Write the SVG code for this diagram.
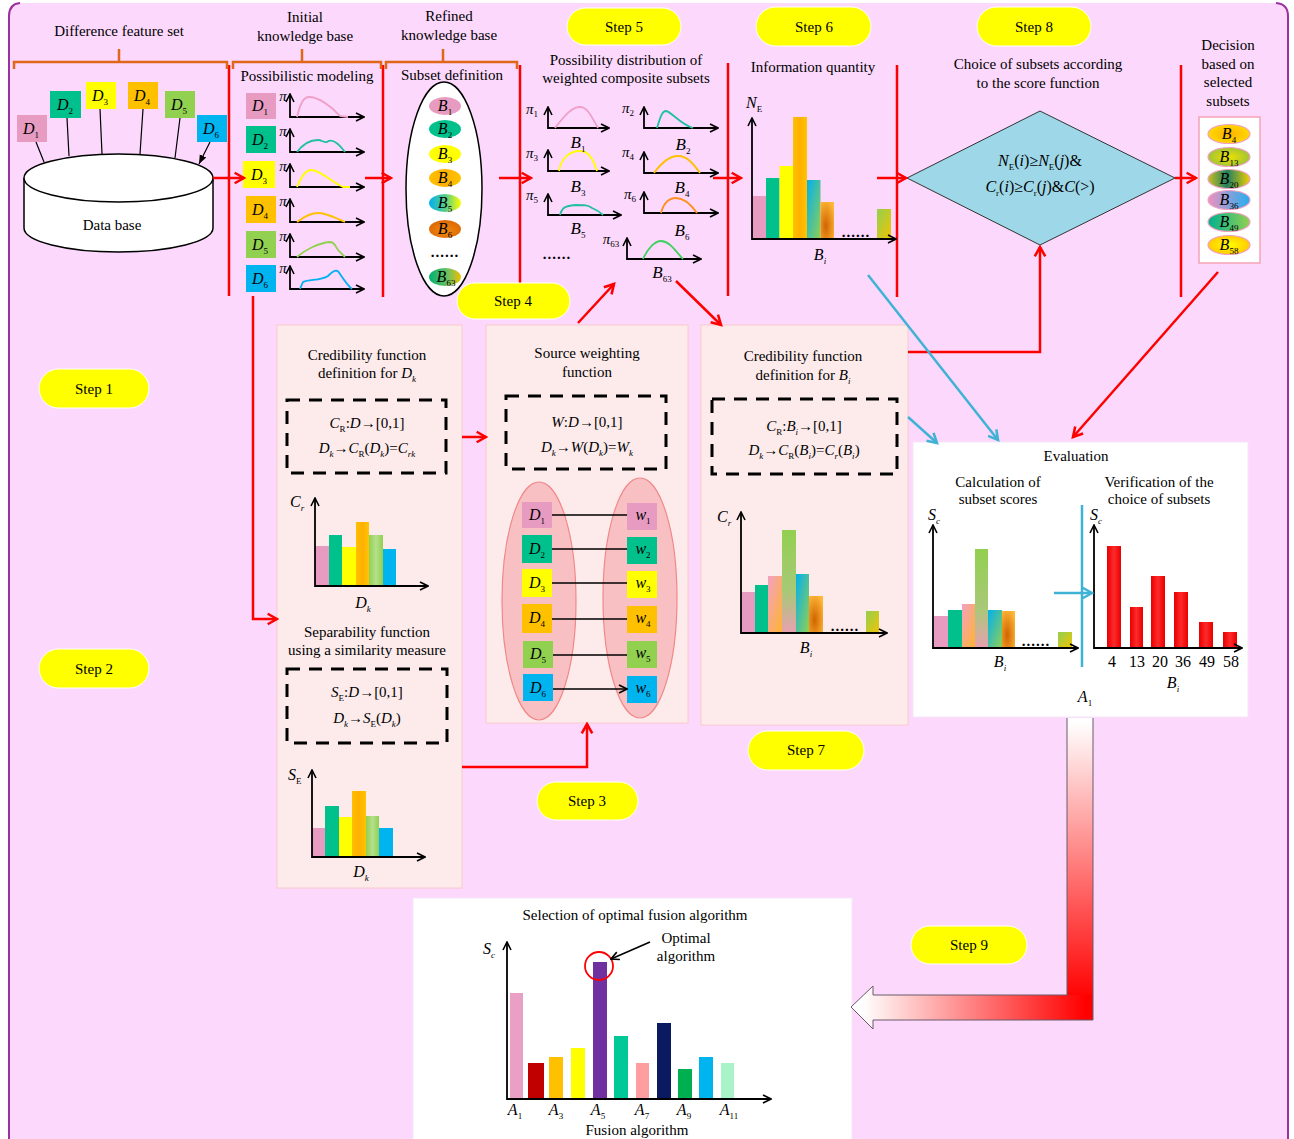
<svg xmlns="http://www.w3.org/2000/svg" width="1294" height="1139" viewBox="0 0 1294 1139">
<defs>
<style>
.t{font-family:"Liberation Serif","Times New Roman",serif;font-size:15px;fill:#000;text-anchor:middle}
.l{text-anchor:start}
.i{font-style:italic}
.s{font-size:9px}
.m{font-size:16px}
.b{font-size:17px}
.ax{stroke:#000;stroke-width:1.8;fill:none;marker-start:url(#aa);marker-end:url(#aa)}
.lane{stroke:#FF0000;stroke-width:2.5;fill:none}
.rc{stroke:#FF0000;stroke-width:2.5;fill:none;marker-end:url(#ra)}
.bc{stroke:#3FB2D6;stroke-width:2.5;fill:none;marker-end:url(#ba)}
.pill{fill:#FFFF00;stroke:#fff;stroke-width:1}
.panel{fill:#FDEBEB;stroke:#F8CACA;stroke-width:1}
.white{fill:#fff;stroke:#F6E6F6;stroke-width:1}
.dash{fill:none;stroke:#000;stroke-width:3;stroke-dasharray:13 9}
.bk{stroke:#000;stroke-width:1.2;fill:none;marker-end:url(#ka)}
.bw{stroke:#000;stroke-width:1.6;fill:none;marker-end:url(#aa)}
.cv{fill:none;stroke-width:1.8}
.brk{stroke:#E0661A;stroke-width:2.5;fill:none}
.pk{fill:#E89BC0}.tl{fill:#00C08C}.ye{fill:#FFFF00}.or{fill:#FFC000}.gr{fill:#92D050}.bl{fill:#00B4F0}
</style>
<marker id="aa" viewBox="0 0 10 10" refX="9" refY="5" markerWidth="10" markerHeight="10" markerUnits="userSpaceOnUse" orient="auto-start-reverse"><path d="M1,1 L9,5 L1,9" fill="none" stroke="#000" stroke-width="1.6"/></marker>
<marker id="ka" viewBox="0 0 10 10" refX="10" refY="5" markerWidth="9" markerHeight="9" markerUnits="userSpaceOnUse" orient="auto"><path d="M0,1 L10,5 L0,9 z" fill="#000"/></marker>
<marker id="ra" viewBox="0 0 12 12" refX="10" refY="6" markerWidth="14" markerHeight="14" markerUnits="userSpaceOnUse" orient="auto"><path d="M2,1.5 L10,6 L2,10.5" fill="none" stroke="#FF0000" stroke-width="2.2"/></marker>
<marker id="ba" viewBox="0 0 12 12" refX="10" refY="6" markerWidth="14" markerHeight="14" markerUnits="userSpaceOnUse" orient="auto"><path d="M2,1.5 L10,6 L2,10.5" fill="none" stroke="#3FB2D6" stroke-width="2.2"/></marker>
<linearGradient id="gPeach" x1="0" y1="0" x2="1" y2="1"><stop offset="0" stop-color="#F3A0C4"/><stop offset="1" stop-color="#FFB52E"/></linearGradient>
<linearGradient id="gBG" x1="0" y1="0" x2="1" y2="1"><stop offset="0" stop-color="#00B0F0"/><stop offset="1" stop-color="#92D050"/></linearGradient>
<radialGradient id="gDO" cx="0.4" cy="0.65" r="0.75"><stop offset="0" stop-color="#D06400"/><stop offset="1" stop-color="#FFB838"/></radialGradient>
<linearGradient id="gGY" x1="0" y1="0" x2="1" y2="1"><stop offset="0" stop-color="#92D050"/><stop offset="1" stop-color="#F2C400"/></linearGradient>
<linearGradient id="gGr" x1="0" y1="0" x2="1" y2="0"><stop offset="0" stop-color="#92D050"/><stop offset="0.5" stop-color="#B5E08C"/><stop offset="1" stop-color="#92D050"/></linearGradient>
<linearGradient id="gOr" x1="0" y1="0" x2="1" y2="0"><stop offset="0" stop-color="#FFC000"/><stop offset="0.5" stop-color="#FFB000"/><stop offset="1" stop-color="#FFC400"/></linearGradient>
<linearGradient id="gGP" x1="0" y1="0" x2="0" y2="1"><stop offset="0" stop-color="#92D050"/><stop offset="0.6" stop-color="#A8C878"/><stop offset="1" stop-color="#E8A0B0"/></linearGradient>
<linearGradient id="gRed" x1="0" y1="0" x2="1" y2="0"><stop offset="0" stop-color="#E80000"/><stop offset="0.5" stop-color="#FF2A2A"/><stop offset="1" stop-color="#E80000"/></linearGradient>
<linearGradient id="gV" gradientUnits="userSpaceOnUse" x1="0" y1="722" x2="0" y2="1000"><stop offset="0" stop-color="#fff"/><stop offset="1" stop-color="#FF0000"/></linearGradient>
<linearGradient id="gH" gradientUnits="userSpaceOnUse" x1="862" y1="0" x2="1085" y2="0"><stop offset="0" stop-color="#fff"/><stop offset="1" stop-color="#FF0000"/></linearGradient>
<linearGradient id="gB5" x1="0" y1="0" x2="1" y2="0"><stop offset="0" stop-color="#00B0F0"/><stop offset="0.55" stop-color="#60D080"/><stop offset="1" stop-color="#FFFF00"/></linearGradient>
<radialGradient id="gB6" cx="0.5" cy="0.6" r="0.7"><stop offset="0" stop-color="#F08A10"/><stop offset="1" stop-color="#D86000"/></radialGradient>
<linearGradient id="gB63" x1="0" y1="0" x2="1" y2="0"><stop offset="0" stop-color="#00B070"/><stop offset="0.6" stop-color="#70C060"/><stop offset="1" stop-color="#F0C000"/></linearGradient>
<radialGradient id="gD4" cx="0.5" cy="0.5" r="0.6"><stop offset="0" stop-color="#FFB000"/><stop offset="1" stop-color="#FFE000"/></radialGradient>
<radialGradient id="gD13" cx="0.5" cy="0.5" r="0.6"><stop offset="0" stop-color="#F0E000"/><stop offset="1" stop-color="#92C040"/></radialGradient>
<linearGradient id="gD20" x1="0" y1="0" x2="1" y2="0"><stop offset="0" stop-color="#C8C020"/><stop offset="0.45" stop-color="#208060"/><stop offset="1" stop-color="#F0D000"/></linearGradient>
<linearGradient id="gD36" x1="0" y1="0" x2="1" y2="0"><stop offset="0" stop-color="#F090C0"/><stop offset="1" stop-color="#20B0F0"/></linearGradient>
<linearGradient id="gD49" x1="0" y1="0" x2="1" y2="0"><stop offset="0" stop-color="#00B090"/><stop offset="1" stop-color="#92D050"/></linearGradient>
<radialGradient id="gD58" cx="0.5" cy="0.5" r="0.6"><stop offset="0" stop-color="#FFFF00"/><stop offset="1" stop-color="#FFC000"/></radialGradient>
</defs>

<rect x="0" y="0" width="1294" height="1139" fill="#fff"/>
<rect x="9" y="3" width="1279" height="1150" rx="12" fill="#FCD9FC"/>
<path d="M9,1139 V16 Q9,4 20,3 M1276,3 Q1288,4 1288,16 V1139" fill="none" stroke="#9932A0" stroke-width="2"/>

<!-- lane separators -->
<g id="lanes">
<path class="lane" d="M229,65 V296 M383,65 V297 M520,65 V296 M728,63 V296 M897,65 V297 M1181,65 V297"/>
</g>

<!-- brackets and headers -->
<g id="feature-set">
<text class="t" x="119" y="36">Difference feature set</text>
<path class="brk" d="M14,69 V62 H227 V69 M119,62 V49"/>
</g>
<g id="initial-kb">
<text class="t" x="305" y="22">Initial</text>
<text class="t" x="305" y="41">knowledge base</text>
<path class="brk" d="M233,69 V62 H381 V69 M302,62 V49"/>
<text class="t" x="307" y="81">Possibilistic modeling</text>
</g>
<g id="refined-kb">
<text class="t" x="449" y="21">Refined</text>
<text class="t" x="449" y="40">knowledge base</text>
<path class="brk" d="M386,69 V62 H517 V69 M443,62 V49"/>
<text class="t" x="452" y="80">Subset definition</text>
</g>

<g id="database">
<path d="M24,178 V228 A94.5,24 0 0,0 213,228 V178" fill="#fff" stroke="#000" stroke-width="1.5"/>
<ellipse cx="118.5" cy="178" rx="94.5" ry="24" fill="#fff" stroke="#000" stroke-width="1.5"/>
<text class="t" x="112" y="230">Data base</text>
</g>

<!-- D sources -->
<g id="sources">
<rect class="pk" x="17" y="115" width="30" height="27"/><text class="t m i" x="31" y="134">D<tspan class="s" font-style="normal" dy="4">1</tspan></text>
<rect class="tl" x="50" y="91" width="31" height="27"/><text class="t m i" x="65" y="110">D<tspan class="s" font-style="normal" dy="4">2</tspan></text>
<rect class="ye" x="86" y="82" width="30" height="27"/><text class="t m i" x="100" y="101">D<tspan class="s" font-style="normal" dy="4">3</tspan></text>
<rect class="or" x="128" y="82" width="30" height="27"/><text class="t m i" x="142" y="101">D<tspan class="s" font-style="normal" dy="4">4</tspan></text>
<rect class="gr" x="165" y="91" width="30" height="27"/><text class="t m i" x="179" y="110">D<tspan class="s" font-style="normal" dy="4">5</tspan></text>
<rect class="bl" x="197" y="115" width="30" height="27"/><text class="t m i" x="211" y="134">D<tspan class="s" font-style="normal" dy="4">6</tspan></text>
<path class="bk" d="M36,142 L44,162 M67,118 L69,156 M100,109 L102,154 M143,109 L140,154 M180,118 L175,158 M210,142 L199,164"/>
</g>

<!-- Possibilistic modeling -->
<g id="possibilistic-modeling">
<rect class="pk" x="246" y="93" width="30" height="26"/><text class="t m i" x="260" y="111">D<tspan class="s" font-style="normal" dy="4">1</tspan></text>
<rect class="tl" x="246" y="126" width="30" height="27"/><text class="t m i" x="260" y="145">D<tspan class="s" font-style="normal" dy="4">2</tspan></text>
<rect class="ye" x="243" y="161" width="32" height="27"/><text class="t m i" x="259" y="180">D<tspan class="s" font-style="normal" dy="4">3</tspan></text>
<rect class="or" x="246" y="196" width="30" height="27"/><text class="t m i" x="260" y="215">D<tspan class="s" font-style="normal" dy="4">4</tspan></text>
<rect class="gr" x="246" y="231" width="30" height="27"/><text class="t m i" x="260" y="250">D<tspan class="s" font-style="normal" dy="4">5</tspan></text>
<rect class="bl" x="246" y="265" width="30" height="27"/><text class="t m i" x="260" y="284">D<tspan class="s" font-style="normal" dy="4">6</tspan></text>
<g class="t i" font-size="13">
<text x="283" y="101">π</text><text x="283" y="136">π</text><text x="283" y="171">π</text><text x="283" y="206">π</text><text x="283" y="241">π</text><text x="283" y="273">π</text>
</g>
<path class="ax" d="M290,94 V117 H364"/>
<path class="ax" d="M290,129 V152 H364"/>
<path class="ax" d="M290,164 V187 H364"/>
<path class="ax" d="M290,199 V222 H364"/>
<path class="ax" d="M290,234 V257 H364"/>
<path class="ax" d="M290,266 V289 H364"/>
<path class="cv" stroke="#F0A0C8" d="M297,117 C300,105 303,97 309,97 C318,97 330,105 340,116 L348,117"/>
<path class="cv" stroke="#20C0A0" d="M297,152 C303,144 310,140 318,140 C322,140 324,143 327,142 C331,139 336,140 345,152"/>
<path class="cv" stroke="#FFFF00" d="M297,187 C301,178 305,170 311,170 C320,170 330,181 343,187 L350,187"/>
<path class="cv" stroke="#FFC000" d="M297,222 C305,216 311,213 318,213 C327,213 335,218 345,222"/>
<path class="cv" stroke="#92D050" d="M297,257 C305,250 318,243 330,242 C336,242 336,250 340,252 L345,257"/>
<path class="cv" stroke="#00B0F0" d="M300,289 L303,282 C310,279 320,281 328,276 C333,271 337,268 340,274 C344,280 348,286 352,289"/>
</g>

<!-- Subset definition -->
<g id="subset-definition">
<ellipse cx="444" cy="189" rx="38" ry="107" fill="#fff" stroke="#000" stroke-width="1.5"/>
<ellipse cx="445" cy="106" rx="16" ry="9" fill="#E89BC0"/>
<ellipse cx="445" cy="129" rx="16" ry="9" fill="#00C08C"/>
<ellipse cx="445" cy="154" rx="16" ry="9" fill="#FFFF00"/>
<ellipse cx="445" cy="178" rx="16" ry="9" fill="url(#gOr)"/>
<ellipse cx="445" cy="203" rx="16" ry="9" fill="url(#gB5)"/>
<ellipse cx="445" cy="229" rx="16" ry="9" fill="url(#gB6)"/>
<ellipse cx="445" cy="277" rx="16" ry="9" fill="url(#gB63)"/>
<g class="t m i">
<text x="445" y="111">B<tspan class="s" font-style="normal" dy="4">1</tspan></text>
<text x="445" y="134">B<tspan class="s" font-style="normal" dy="4">2</tspan></text>
<text x="445" y="159">B<tspan class="s" font-style="normal" dy="4">3</tspan></text>
<text x="445" y="183">B<tspan class="s" font-style="normal" dy="4">4</tspan></text>
<text x="445" y="208">B<tspan class="s" font-style="normal" dy="4">5</tspan></text>
<text x="445" y="234">B<tspan class="s" font-style="normal" dy="4">6</tspan></text>
<text x="446" y="282">B<tspan class="s" font-style="normal" dy="4">63</tspan></text>
</g>
<text class="t" x="445" y="257" font-weight="bold" letter-spacing="1">......</text>
</g>

<!-- Step 5 possibility distributions -->
<g id="weighted-subsets">
<text class="t" x="626" y="65">Possibility distribution of</text>
<text class="t" x="626" y="83">weighted composite subsets</text>
<g class="t i" font-size="14">
<text x="532" y="114">π<tspan class="s" font-style="normal" dy="3">1</tspan></text>
<text x="628" y="113">π<tspan class="s" font-style="normal" dy="3">2</tspan></text>
<text x="532" y="158">π<tspan class="s" font-style="normal" dy="3">3</tspan></text>
<text x="628" y="157">π<tspan class="s" font-style="normal" dy="3">4</tspan></text>
<text x="532" y="200">π<tspan class="s" font-style="normal" dy="3">5</tspan></text>
<text x="630" y="199">π<tspan class="s" font-style="normal" dy="3">6</tspan></text>
<text x="611" y="244">π<tspan class="s" font-style="normal" dy="3">63</tspan></text>
</g>
<path class="ax" d="M548,107 V128 H609"/>
<path class="ax" d="M644,107 V128 H718"/>
<path class="ax" d="M548,150 V171 H609"/>
<path class="ax" d="M644,152 V173 H718"/>
<path class="ax" d="M548,194 V215 H621"/>
<path class="ax" d="M644,192 V213 H718"/>
<path class="ax" d="M627,238 V259 H701"/>
<path class="cv" stroke="#F0A0C8" d="M555,128 C565,115 572,107 580,107 C588,107 592,118 598,128"/>
<path class="cv" stroke="#20C0A0" d="M657,128 C660,118 662,111 666,111 C672,112 680,124 693,128"/>
<path class="cv" stroke="#FFFF00" d="M559,171 C561,158 570,151 580,151 C590,151 594,162 597,171"/>
<path class="cv" stroke="#FFC000" d="M654,173 C662,162 670,156 678,156 C688,156 695,166 700,173"/>
<path class="cv" stroke="#20C0A0" d="M560,215 C562,207 566,206 575,205 C585,205 588,205 592,208 C597,210 600,212 603,215"/>
<path class="cv" stroke="#FF9020" d="M661,213 C664,202 670,198 676,198 C685,198 692,206 697,213"/>
<path class="cv" stroke="#40D060" d="M643,259 C648,248 655,241 661,241 C670,241 676,252 683,259"/>
<g class="t b i">
<text x="578" y="148">B<tspan class="s" font-style="normal" dy="4">1</tspan></text>
<text x="683" y="150">B<tspan class="s" font-style="normal" dy="4">2</tspan></text>
<text x="578" y="192">B<tspan class="s" font-style="normal" dy="4">3</tspan></text>
<text x="682" y="193">B<tspan class="s" font-style="normal" dy="4">4</tspan></text>
<text x="578" y="234">B<tspan class="s" font-style="normal" dy="4">5</tspan></text>
<text x="682" y="236">B<tspan class="s" font-style="normal" dy="4">6</tspan></text>
<text x="662" y="278">B<tspan class="s" font-style="normal" dy="4">63</tspan></text>
</g>
<text class="t" x="557" y="259" font-weight="bold" letter-spacing="1">......</text>
</g>

<!-- Step 6 information quantity -->
<g id="information-quantity">
<text class="t" x="813" y="72">Information quantity</text>
<rect class="pk" x="752.5" y="196" width="13.5" height="43"/>
<rect class="tl" x="766" y="178" width="13.5" height="61"/>
<rect class="ye" x="779.5" y="166" width="13.5" height="73"/>
<rect fill="url(#gOr)" x="793" y="117" width="14" height="122"/>
<rect fill="url(#gBG)" x="807" y="180" width="13.5" height="59"/>
<rect fill="url(#gDO)" x="820.5" y="202" width="13.5" height="37"/>
<rect fill="url(#gGY)" x="877" y="209" width="14" height="30"/>
<path class="ax" d="M752,118 V239 H896"/>
<text class="t" x="856" y="237" font-weight="bold" letter-spacing="1">......</text>
<text class="t l m i" x="746" y="108">N<tspan class="s" font-style="normal" dy="4">E</tspan></text>
<text class="t m i" x="820" y="260">B<tspan class="s" dy="4">i</tspan></text>
</g>

<!-- Step 8 diamond -->
<g id="score-choice">
<text class="t" x="1038" y="69">Choice of subsets according</text>
<text class="t" x="1038" y="88">to the score function</text>
<polygon points="1040,111 1175,178 1040,245 907,178" fill="#9ED8E8" stroke="#333" stroke-width="1"/>
<text class="t m" x="1040" y="166"><tspan class="i">N</tspan><tspan class="s" dy="4">E</tspan><tspan dy="-4">(</tspan><tspan class="i">i</tspan>)≥<tspan class="i">N</tspan><tspan class="s" dy="4">E</tspan><tspan dy="-4">(</tspan><tspan class="i">j</tspan>)&amp;</text>
<text class="t m" x="1040" y="192"><tspan class="i">C</tspan><tspan class="s" dy="4">r</tspan><tspan dy="-4">(</tspan><tspan class="i">i</tspan>)≥<tspan class="i">C</tspan><tspan class="s" dy="4">r</tspan><tspan dy="-4">(</tspan><tspan class="i">j</tspan>)&amp;<tspan class="i">C</tspan>(&gt;)</text>
</g>

<!-- Decision -->
<g id="decision">
<text class="t" x="1228" y="50">Decision</text>
<text class="t" x="1228" y="69">based on</text>
<text class="t" x="1228" y="87">selected</text>
<text class="t" x="1228" y="106">subsets</text>
<rect x="1199" y="117" width="61" height="146" fill="#fff" stroke="#F4A4B4" stroke-width="1.5"/>
<g stroke="#F0A0C0" stroke-width="1.2">
<ellipse cx="1229" cy="134" rx="21" ry="9.5" fill="url(#gD4)"/>
<ellipse cx="1229" cy="157" rx="21" ry="9.5" fill="url(#gD13)"/>
<ellipse cx="1229" cy="179" rx="21" ry="9.5" fill="url(#gD20)"/>
<ellipse cx="1229" cy="200" rx="21" ry="9.5" fill="url(#gD36)"/>
<ellipse cx="1229" cy="222" rx="21" ry="9.5" fill="url(#gD49)"/>
<ellipse cx="1229" cy="245" rx="21" ry="9.5" fill="url(#gD58)"/>
</g>
<g class="t m i">
<text x="1229" y="139">B<tspan class="s" font-style="normal" dy="4">4</tspan></text>
<text x="1229" y="162">B<tspan class="s" font-style="normal" dy="4">13</tspan></text>
<text x="1229" y="184">B<tspan class="s" font-style="normal" dy="4">20</tspan></text>
<text x="1229" y="205">B<tspan class="s" font-style="normal" dy="4">36</tspan></text>
<text x="1229" y="227">B<tspan class="s" font-style="normal" dy="4">49</tspan></text>
<text x="1229" y="250">B<tspan class="s" font-style="normal" dy="4">58</tspan></text>
</g>
</g>

<!-- Steps -->
<g id="steps" class="t">
<rect class="pill" x="39" y="369" width="110" height="39" rx="19.5"/><text x="94" y="394">Step 1</text>
<rect class="pill" x="39" y="649" width="110" height="39" rx="19.5"/><text x="94" y="674">Step 2</text>
<rect class="pill" x="537" y="782" width="101" height="38" rx="19"/><text x="587" y="806">Step 3</text>
<rect class="pill" x="457" y="283" width="113" height="36" rx="18"/><text x="513" y="306">Step 4</text>
<rect class="pill" x="567" y="8" width="114" height="37" rx="18.5"/><text x="624" y="32">Step 5</text>
<rect class="pill" x="756" y="7" width="115" height="39" rx="19.5"/><text x="814" y="32">Step 6</text>
<rect class="pill" x="748" y="731" width="116" height="39" rx="19.5"/><text x="806" y="755">Step 7</text>
<rect class="pill" x="977" y="7" width="114" height="39" rx="19.5"/><text x="1034" y="32">Step 8</text>
<rect class="pill" x="911" y="926" width="116" height="38" rx="19"/><text x="969" y="950">Step 9</text>
</g>

<!-- Credibility / separability for Dk -->
<g id="credibility-dk">
<rect class="panel" x="277" y="325" width="185" height="563"/>
<text class="t" x="367" y="360">Credibility function</text>
<text class="t" x="367" y="378">definition for <tspan class="i">D</tspan><tspan class="s i" dy="4">k</tspan></text>
<rect class="dash" x="287" y="400" width="159" height="73"/>
<text class="t" x="367" y="428"><tspan class="i">C</tspan><tspan class="s" dy="4">R</tspan><tspan dy="-4">:</tspan><tspan class="i">D</tspan>→[0,1]</text>
<text class="t" x="367" y="453"><tspan class="i">D</tspan><tspan class="s i" dy="4">k</tspan><tspan dy="-4">→</tspan><tspan class="i">C</tspan><tspan class="s" dy="4">R</tspan><tspan dy="-4">(</tspan><tspan class="i">D</tspan><tspan class="s i" dy="4">k</tspan><tspan dy="-4">)=</tspan><tspan class="i">C</tspan><tspan class="s i" dy="4">rk</tspan></text>
<rect class="pk" x="315" y="546" width="14" height="40"/>
<rect class="tl" x="329" y="535" width="13" height="51"/>
<rect class="ye" x="342" y="547" width="14" height="39"/>
<rect fill="url(#gOr)" x="356" y="522" width="13" height="64"/>
<rect fill="url(#gGr)" x="369" y="535" width="14" height="51"/>
<rect class="bl" x="383" y="549" width="13" height="37"/>
<path class="ax" d="M315,498 V586 H428"/>
<text class="t l m i" x="290" y="507">C<tspan class="s" dy="4">r</tspan></text>
<text class="t m i" x="363" y="608">D<tspan class="s" dy="4">k</tspan></text>
</g>
<g id="separability">
<text class="t" x="367" y="637">Separability function</text>
<text class="t" x="367" y="655">using a similarity measure</text>
<rect class="dash" x="287" y="669" width="160" height="74"/>
<text class="t" x="367" y="697"><tspan class="i">S</tspan><tspan class="s" dy="4">E</tspan><tspan dy="-4">:</tspan><tspan class="i">D</tspan>→[0,1]</text>
<text class="t" x="367" y="723"><tspan class="i">D</tspan><tspan class="s i" dy="4">k</tspan><tspan dy="-4">→</tspan><tspan class="i">S</tspan><tspan class="s" dy="4">E</tspan><tspan dy="-4">(</tspan><tspan class="i">D</tspan><tspan class="s i" dy="4">k</tspan><tspan dy="-4">)</tspan></text>
<rect class="pk" x="312" y="828" width="13" height="29"/>
<rect class="tl" x="325" y="806" width="14" height="51"/>
<rect class="ye" x="339" y="817" width="13" height="40"/>
<rect fill="url(#gOr)" x="352" y="791" width="14" height="66"/>
<rect fill="url(#gGr)" x="366" y="816" width="13" height="41"/>
<rect class="bl" x="379" y="828" width="14" height="29"/>
<path class="ax" d="M312,770 V857 H425"/>
<text class="t l m i" x="288" y="780">S<tspan class="s" font-style="normal" dy="4">E</tspan></text>
<text class="t m i" x="361" y="877">D<tspan class="s" dy="4">k</tspan></text>
</g>

<!-- Source weighting -->
<g id="source-weighting">
<rect class="panel" x="486" y="325" width="202" height="398"/>
<text class="t" x="587" y="358">Source weighting</text>
<text class="t" x="587" y="377">function</text>
<rect class="dash" x="506" y="396" width="160" height="73"/>
<text class="t" x="587" y="427"><tspan class="i">W</tspan>:<tspan class="i">D</tspan>→[0,1]</text>
<text class="t" x="587" y="452"><tspan class="i">D</tspan><tspan class="s i" dy="4">k</tspan><tspan dy="-4">→</tspan><tspan class="i">W</tspan>(<tspan class="i">D</tspan><tspan class="s i" dy="4">k</tspan><tspan dy="-4">)=</tspan><tspan class="i">W</tspan><tspan class="s i" dy="4">k</tspan></text>
<ellipse cx="539" cy="601" rx="37" ry="119" fill="#F6B2B6" fill-opacity="0.75" stroke="#F08888" stroke-width="1.2"/>
<ellipse cx="640" cy="598" rx="37" ry="120" fill="#F6B2B6" fill-opacity="0.75" stroke="#F08888" stroke-width="1.2"/>
<rect class="pk" x="522" y="502" width="30" height="26"/>
<rect class="tl" x="522" y="535" width="30" height="28"/>
<rect class="ye" x="522" y="569" width="30" height="28"/>
<rect class="or" x="522" y="604" width="30" height="29"/>
<rect class="gr" x="523" y="641" width="30" height="27"/>
<rect class="bl" x="523" y="674" width="30" height="27"/>
<rect class="pk" x="627" y="503" width="30" height="27"/>
<rect class="tl" x="627" y="537" width="30" height="27"/>
<rect class="ye" x="627" y="571" width="30" height="27"/>
<rect class="or" x="627" y="606" width="30" height="27"/>
<rect class="gr" x="627" y="641" width="30" height="27"/>
<rect class="bl" x="627" y="676" width="30" height="27"/>
<g class="t m i">
<text x="537" y="520">D<tspan class="s" font-style="normal" dy="4">1</tspan></text>
<text x="537" y="554">D<tspan class="s" font-style="normal" dy="4">2</tspan></text>
<text x="537" y="588">D<tspan class="s" font-style="normal" dy="4">3</tspan></text>
<text x="537" y="623">D<tspan class="s" font-style="normal" dy="4">4</tspan></text>
<text x="538" y="659">D<tspan class="s" font-style="normal" dy="4">5</tspan></text>
<text x="538" y="693">D<tspan class="s" font-style="normal" dy="4">6</tspan></text>
<text x="643" y="520">w<tspan class="s" font-style="normal" dy="4">1</tspan></text>
<text x="643" y="554">w<tspan class="s" font-style="normal" dy="4">2</tspan></text>
<text x="643" y="588">w<tspan class="s" font-style="normal" dy="4">3</tspan></text>
<text x="643" y="623">w<tspan class="s" font-style="normal" dy="4">4</tspan></text>
<text x="643" y="658">w<tspan class="s" font-style="normal" dy="4">5</tspan></text>
<text x="643" y="693">w<tspan class="s" font-style="normal" dy="4">6</tspan></text>
</g>
<path class="bw" d="M552,515 H627 M552,549 H627 M552,583 H627 M552,619 H627 M553,655 H627 M553,689 H627"/>
</g>

<!-- Credibility for Bi -->
<g id="credibility-bi">
<rect class="panel" x="701" y="325" width="207" height="400"/>
<text class="t" x="803" y="361">Credibility function</text>
<text class="t" x="803" y="380">definition for <tspan class="i">B</tspan><tspan class="s i" dy="4">i</tspan></text>
<rect class="dash" x="712" y="399" width="185" height="75"/>
<text class="t" x="804" y="431"><tspan class="i">C</tspan><tspan class="s" dy="4">R</tspan><tspan dy="-4">:</tspan><tspan class="i">B</tspan><tspan class="s i" dy="4">i</tspan><tspan dy="-4">→[0,1]</tspan></text>
<text class="t" x="804" y="455"><tspan class="i">D</tspan><tspan class="s i" dy="4">k</tspan><tspan dy="-4">→</tspan><tspan class="i">C</tspan><tspan class="s" dy="4">R</tspan><tspan dy="-4">(</tspan><tspan class="i">B</tspan><tspan class="s i" dy="4">i</tspan><tspan dy="-4">)=</tspan><tspan class="i">C</tspan><tspan class="s i" dy="4">r</tspan><tspan dy="-4">(</tspan><tspan class="i">B</tspan><tspan class="s i" dy="4">i</tspan><tspan dy="-4">)</tspan></text>
<rect class="pk" x="742" y="592" width="13" height="41"/>
<rect class="tl" x="755" y="585" width="13" height="48"/>
<rect fill="url(#gPeach)" x="768" y="576" width="14" height="57"/>
<rect fill="url(#gGP)" x="782" y="530" width="14" height="103"/>
<rect fill="url(#gBG)" x="796" y="574" width="13" height="59"/>
<rect fill="url(#gDO)" x="809" y="596" width="14" height="37"/>
<rect fill="url(#gGY)" x="866" y="611" width="13" height="22"/>
<path class="ax" d="M741,512 V633 H887"/>
<text class="t" x="845" y="631" font-weight="bold" letter-spacing="1">......</text>
<text class="t l m i" x="717" y="522">C<tspan class="s" dy="4">r</tspan></text>
<text class="t m i" x="806" y="653">B<tspan class="s" dy="4">i</tspan></text>
</g>

<!-- Evaluation -->
<g id="evaluation">
<rect class="white" x="913" y="442" width="335" height="275"/>
<text class="t" x="1076" y="461">Evaluation</text>
<text class="t" x="998" y="487">Calculation of</text>
<text class="t" x="998" y="504">subset scores</text>
<text class="t" x="1159" y="487">Verification of the</text>
<text class="t" x="1159" y="504">choice of subsets</text>
<rect class="pk" x="934" y="616" width="14" height="32"/>
<rect class="tl" x="948" y="610" width="14" height="38"/>
<rect fill="url(#gPeach)" x="962" y="604" width="13" height="44"/>
<rect fill="url(#gGP)" x="975" y="549" width="13" height="99"/>
<rect fill="url(#gBG)" x="988" y="610" width="14" height="38"/>
<rect fill="url(#gDO)" x="1002" y="611" width="13" height="37"/>
<rect fill="url(#gGY)" x="1058" y="632" width="14" height="16"/>
<path class="ax" d="M933,525 V648 H1078"/>
<text class="t" x="1036" y="646" font-weight="bold" letter-spacing="1">......</text>
<text class="t l m i" x="928" y="520">S<tspan class="s" dy="4">c</tspan></text>
<text class="t m i" x="1000" y="667">B<tspan class="s" dy="4">i</tspan></text>
<path d="M1082,505 V667" stroke="#3FB2D6" stroke-width="2.5"/>
<rect fill="url(#gRed)" x="1107" y="546" width="14" height="102"/>
<rect fill="url(#gRed)" x="1130" y="607" width="13" height="41"/>
<rect fill="url(#gRed)" x="1151" y="576" width="14" height="72"/>
<rect fill="url(#gRed)" x="1174" y="592" width="14" height="56"/>
<rect fill="url(#gRed)" x="1199" y="622" width="14" height="26"/>
<rect fill="url(#gRed)" x="1223" y="632" width="14" height="16"/>
<path class="ax" d="M1094,525 V648 H1242"/>
<text class="t l m i" x="1090" y="520">S<tspan class="s" dy="4">c</tspan></text>
<g class="t m">
<text x="1112" y="667">4</text><text x="1137" y="667">13</text><text x="1160" y="667">20</text><text x="1183" y="667">36</text><text x="1207" y="667">49</text><text x="1231" y="667">58</text>
</g>
<text class="t m i" x="1173" y="688">B<tspan class="s" dy="4">i</tspan></text>
<text class="t m i" x="1085" y="702">A<tspan class="s" font-style="normal" dy="4">1</tspan></text>
</g>

<!-- Fusion algorithm selection -->
<g id="fusion-selection">
<rect class="white" x="413" y="898" width="439" height="245"/>
<text class="t" x="635" y="920">Selection of optimal fusion algorithm</text>
<rect x="510" y="993" width="13" height="106" fill="#EAA0C4"/>
<rect x="528" y="1063" width="16" height="36" fill="#C00000"/>
<rect x="549" y="1057" width="14" height="42" fill="#FFC000"/>
<rect x="571" y="1048" width="14" height="51" fill="#FFFF00"/>
<rect x="593" y="962" width="14" height="137" fill="#7030A0"/>
<rect x="614" y="1036" width="14" height="63" fill="#00C896"/>
<rect x="636" y="1063" width="13" height="36" fill="#FF9E9E"/>
<rect x="657" y="1023" width="14" height="76" fill="#0A1A60"/>
<rect x="678" y="1069" width="14" height="30" fill="#00B050"/>
<rect x="699" y="1057" width="14" height="42" fill="#00B4F0"/>
<rect x="721" y="1063" width="13" height="36" fill="#A8F4C8"/>
<path class="ax" d="M507,942 V1099 H771"/>
<circle cx="599" cy="966" r="14" fill="none" stroke="#FF0000" stroke-width="1.8"/>
<path class="bw" d="M650,942 L611,959"/>
<text class="t" x="686" y="943">Optimal</text>
<text class="t" x="686" y="961">algorithm</text>
<text class="t l m i" x="483" y="954">S<tspan class="s" dy="4">c</tspan></text>
<g class="t m i">
<text x="515" y="1115">A<tspan class="s" font-style="normal" dy="4">1</tspan></text>
<text x="556" y="1115">A<tspan class="s" font-style="normal" dy="4">3</tspan></text>
<text x="598" y="1115">A<tspan class="s" font-style="normal" dy="4">5</tspan></text>
<text x="642" y="1115">A<tspan class="s" font-style="normal" dy="4">7</tspan></text>
<text x="684" y="1115">A<tspan class="s" font-style="normal" dy="4">9</tspan></text>
<text x="729" y="1115">A<tspan class="s" font-style="normal" dy="4">11</tspan></text>
</g>
<text class="t" x="637" y="1135">Fusion algorithm</text>
</g>

<!-- Connectors -->
<g id="connectors">
<path class="rc" d="M213,178 H244"/>
<path class="rc" d="M365,178 H391"/>
<path class="rc" d="M499,178 H531"/>
<path class="rc" d="M713,178 H741"/>
<path class="rc" d="M877,178 H906"/>
<path class="rc" d="M1175,178 H1196"/>
<path class="rc" d="M253,296 V619 H277"/>
<path class="rc" d="M462,437 H486"/>
<path class="rc" d="M462,767 H587 V724"/>
<path class="rc" d="M578,323 L614,284"/>
<path class="rc" d="M676,281 L721,325"/>
<path class="rc" d="M908,352 H1040 V247"/>
<path class="rc" d="M1218,272 L1073,437"/>
<path class="bc" d="M868,275 L998,440"/>
<path class="bc" d="M908,417 L937,443"/>
<path class="bc" d="M1054,593 H1092"/>
<g id="step9-arrow">
<rect x="1067" y="718" width="26" height="302" fill="url(#gV)"/>
<polygon points="851,1007 873,986 873,995 1093,995 1093,1020 873,1020 873,1029" fill="url(#gH)"/>
<path d="M1067,718 V995 H873 V986 L851,1007 L873,1029 V1020 H1093 V718" fill="none" stroke="#6A5A6A" stroke-width="1"/>
</g>
</g>
</svg>
